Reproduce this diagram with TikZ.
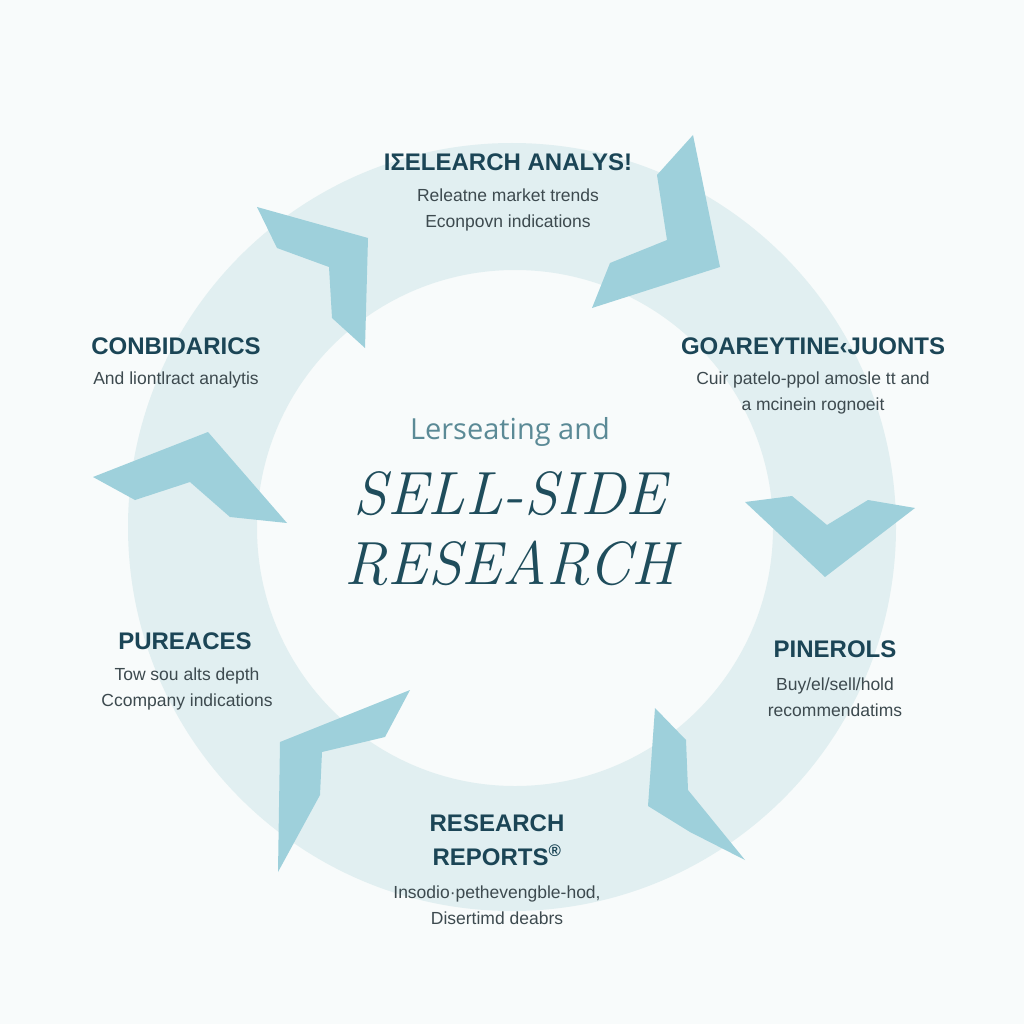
\documentclass[tikz,border=0pt]{standalone}
\usepackage{fontspec}
\newfontfamily\lsans{Liberation Sans}
\newfontfamily\osans{Open Sans}
\definecolor{bgcol}{HTML}{F8FBFB}
\definecolor{ringcol}{HTML}{E1EFF1}
\definecolor{chevcol}{HTML}{9ED0DB}
\definecolor{titlecol}{HTML}{1B4556}
\definecolor{subcol}{HTML}{3D4A4F}
\definecolor{midcol}{HTML}{5B8A96}
\definecolor{bigcol}{HTML}{1F4D5C}
\tikzset{
  ttl/.style={font=\lsans\bfseries\fontsize{24}{34}\selectfont, text=titlecol, align=center, inner sep=0pt},
  subt/.style={font=\lsans\fontsize{17.5}{25.5}\selectfont, text=subcol, align=center, inner sep=0pt},
  chev/.style={fill=chevcol},
  big/.style={font=\itshape\fontsize{61}{68}\selectfont, text=bigcol, inner sep=0pt}
}
\begin{document}
\begin{tikzpicture}[x=1pt,y=-1pt]
\fill[bgcol] (0,0) rectangle (1024,1024);
\useasboundingbox (0,0) rectangle (1024,1024);
% ring
\fill[ringcol, even odd rule] (512,527) circle[radius=384pt] (515,528) circle[radius=258pt];
% chevrons
\fill[chev] (257,207) -- (368,238) -- (365,348) -- (332,318) -- (329,267) -- (277,248) -- cycle;
\fill[chev] (693,135) -- (720,267) -- (592,308) -- (610,263) -- (667,240) -- (657,175) -- cycle;
\fill[chev] (93,477) -- (208,432) -- (287,523) -- (230,517) -- (190,482) -- (135,500) -- cycle;
\fill[chev] (745,502) -- (792,496) -- (827,525) -- (868,500) -- (915,508) -- (825,577) -- cycle;
\fill[chev] (410,690) -- (280,742) -- (278,872) -- (320,795) -- (322,752) -- (385,737) -- cycle;
\fill[chev] (655,708) -- (686,740) -- (688,790) -- (745,860) -- (690,832) -- (648,806) -- cycle;
% texts
\node[ttl] (t1) at (508,162) {IΣELEARCH ANALYS!};
\node[subt] (s1) at (508,210) {Releatne market trends\\Econpovn indications};
\node[ttl] (t2) at (176,346) {CONBIDARICS};
\node[subt] (s2) at (176,380) {And liontlract analytis};
\node[ttl] (t3) at (813,346) {GOAREYTINE‹JUONTS};
\node[subt] (s3) at (813,393) {Cuir patelo-ppol amosle tt and\\a mcinein rognoeit};
\node[ttl] (t4) at (185,641) {PUREACES};
\node[subt] (s4) at (187,689) {Tow sou alts depth\\Ccompany indications};
\node[ttl] (t5) at (835,649) {PINEROLS};
\node[subt] (s5) at (835,697) {Buy/el/sell/hold\\recommendatims};
\node[ttl] (t6) at (497,840) {RESEARCH\\REPORTS\textsuperscript{®}};
\node[subt] (s6) at (497,905) {Insodio·pethevengble-hod,\\Disertimd deabrs};
% centre
\node[font=\osans\fontsize{29}{32}\selectfont, text=midcol, inner sep=0pt] (c1) at (510,432) {Lerseating and};
\node[big] (c2) at (510,494) {SELL-SIDE};
\node[big] (c3) at (510,563) {RESEARCH};
\end{tikzpicture}
\end{document}
